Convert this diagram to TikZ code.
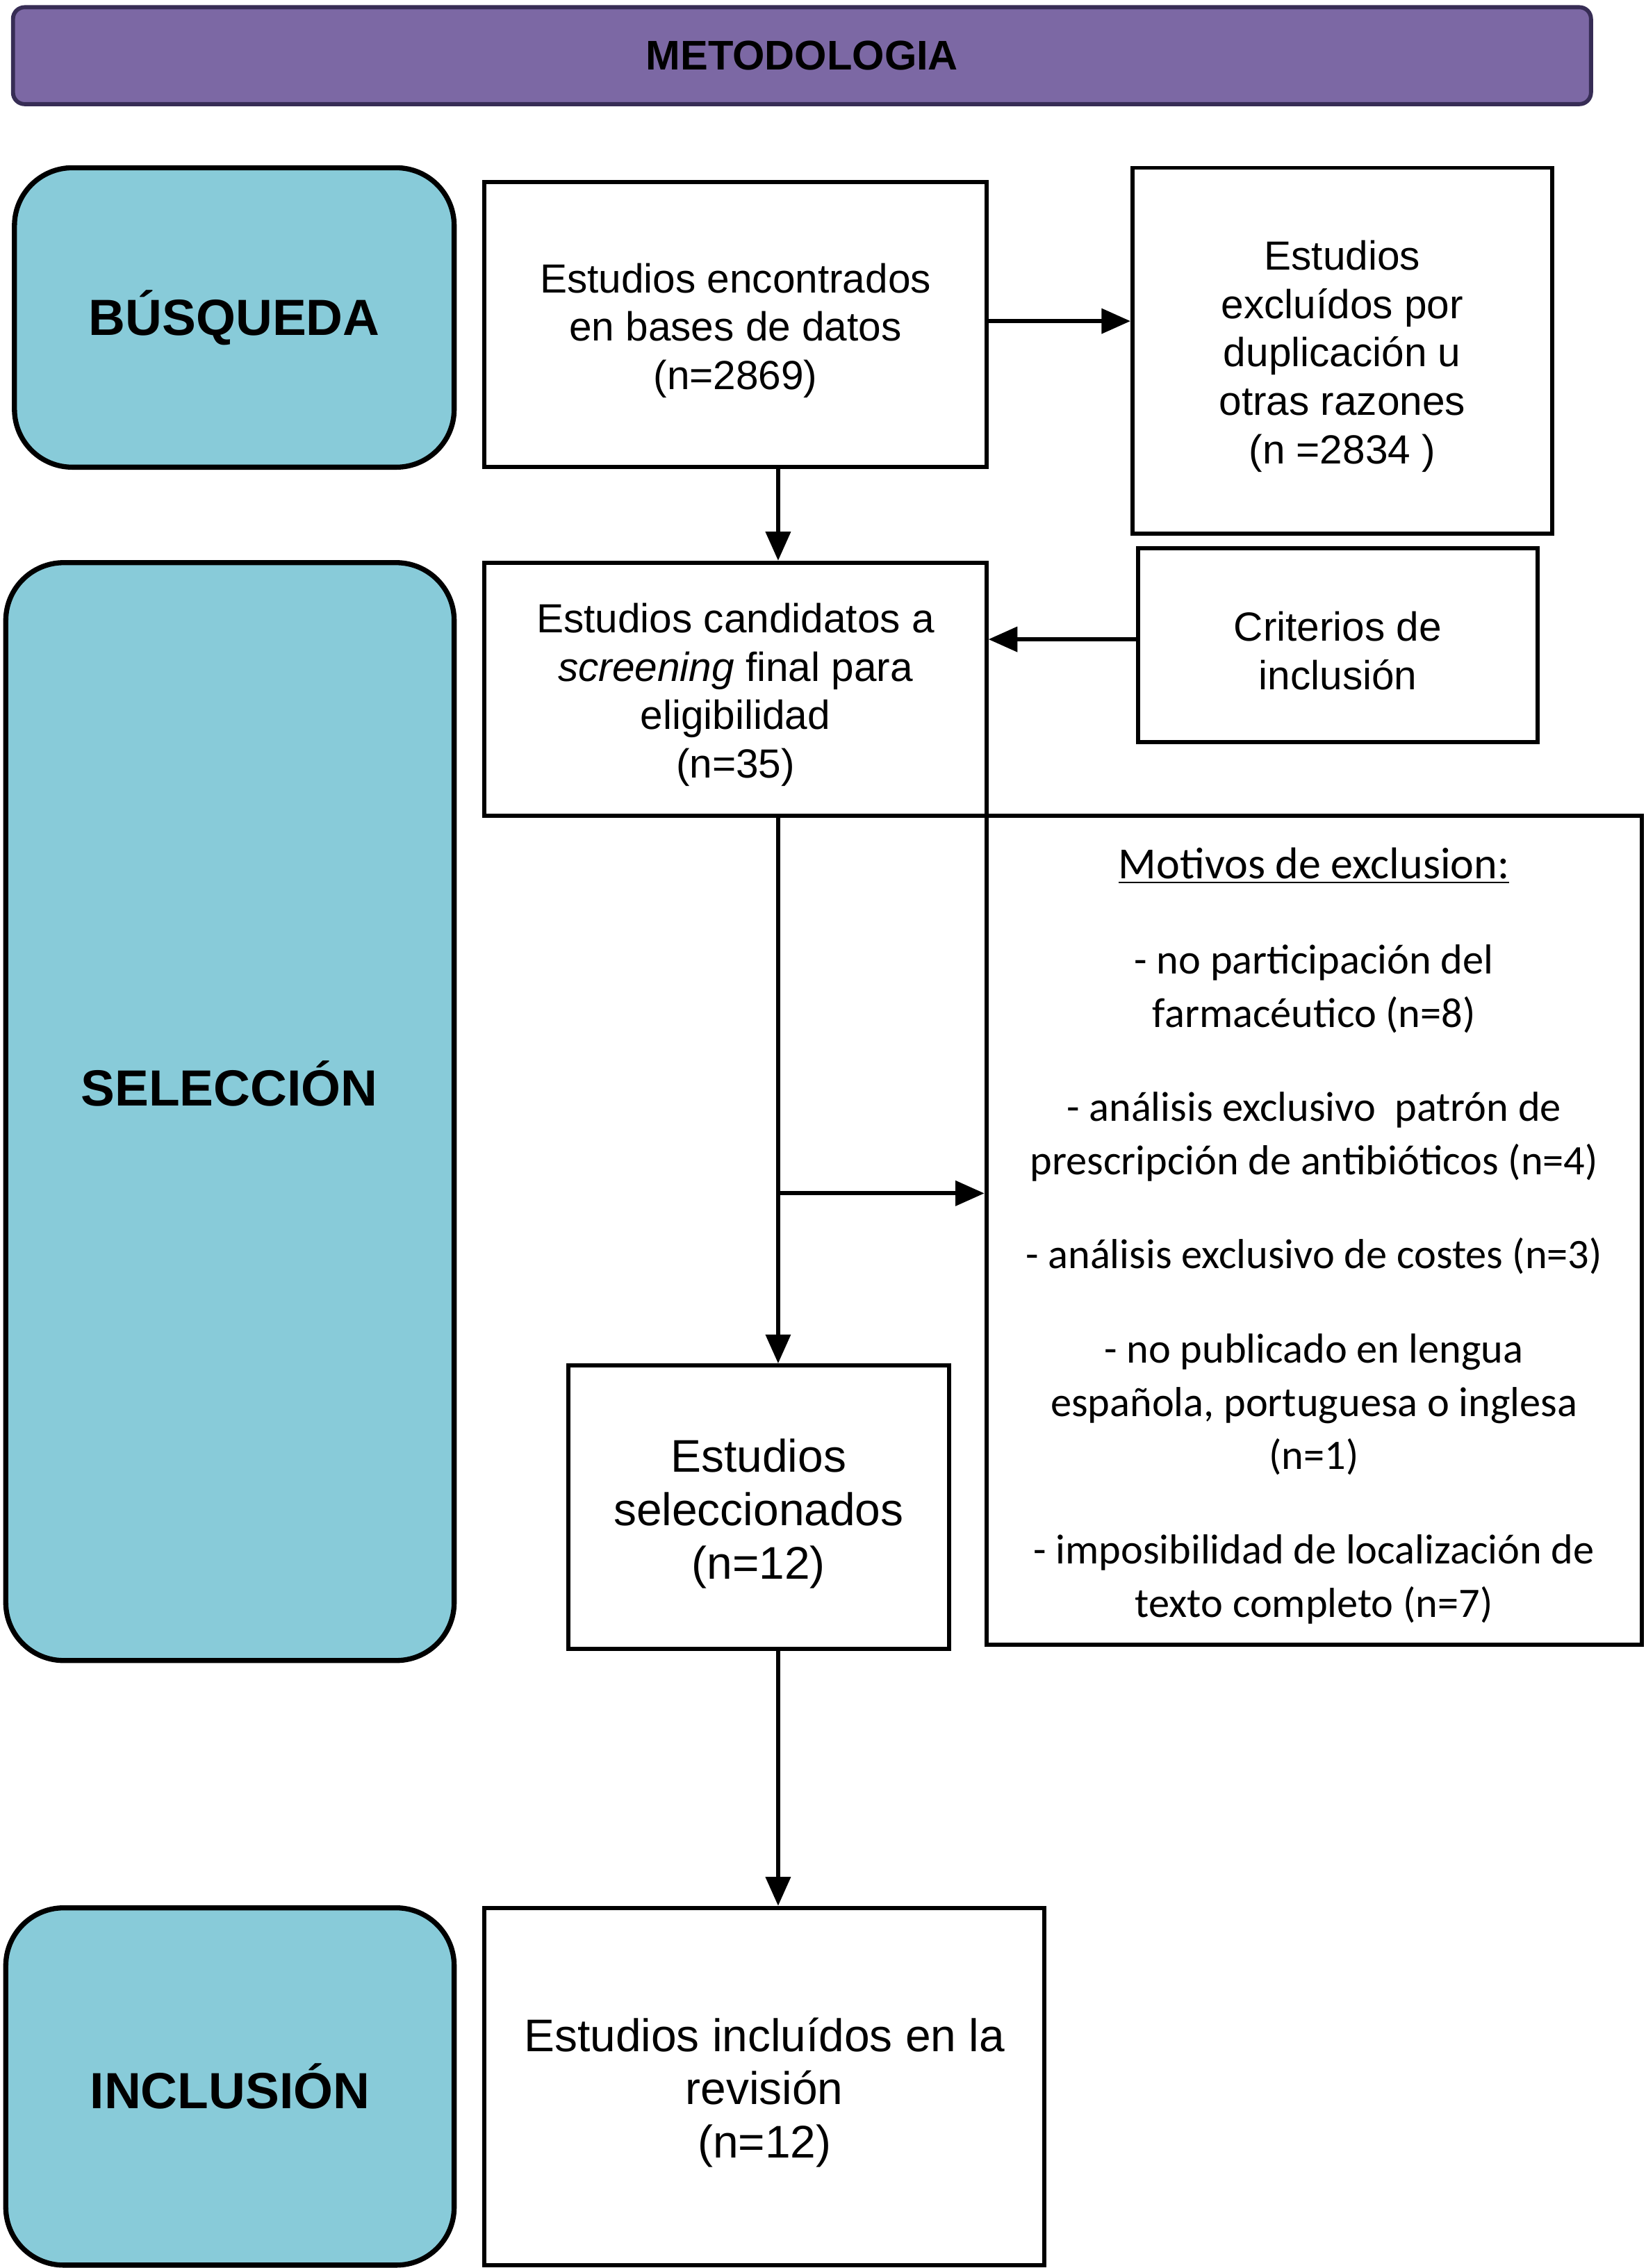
\documentclass[tikz,border=0pt]{standalone}
\usepackage{fontspec}
\setmainfont{Liberation Sans}
\newfontfamily\calib{Carlito}
\usetikzlibrary{arrows.meta,calc}
\definecolor{hdrfill}{RGB}{124,104,164}
\definecolor{hdrdraw}{RGB}{55,45,85}
\definecolor{phasefill}{RGB}{136,203,217}
\newcommand{\tstr}{\rule{0pt}{1em}}
\begin{document}
\begin{tikzpicture}[
  box/.style={draw=black, line width=1.6pt, fill=white, align=center, inner sep=0pt, font=\fontsize{16}{19}\selectfont},
  bigbox/.style={box, font=\fontsize{18}{21}\selectfont},
  phase/.style={draw=black, line width=2pt, fill=phasefill, rounded corners=0.8cm, inner sep=0pt, font=\fontsize{20}{24}\selectfont\bfseries},
  phasetext/.style={inner sep=0pt, font=\fontsize{20}{24}\selectfont\bfseries},
  arr/.style={line width=1.6pt, -{Triangle[length=0.4cm,width=0.34cm]}},
]
\useasboundingbox (0,0) rectangle (22.76,-31.36);
% header
\node[draw=hdrdraw, line width=1.6pt, fill=hdrfill, rounded corners=0.16cm, minimum width=21.82cm, minimum height=1.34cm, inner sep=0pt, font=\fontsize{16.3}{19}\selectfont\bfseries] (hdr) at (11.09,-0.77) {METODOLOGIA};
% phase boxes
\node[phase, minimum width=6.08cm, minimum height=4.14cm] (busq) at (3.24,-4.39) {BÚSQUEDA};
\node[phase, minimum width=6.2cm, minimum height=15.18cm] (selbox) at (3.18,-15.37) {};
\node[phasetext] (selt) at (3.17,-14.98) {SELECCIÓN};
\node[phase, minimum width=6.2cm, minimum height=4.94cm] (inclbox) at (3.18,-28.85) {INCLUSIÓN};
% flow boxes
\node[box, minimum width=6.94cm, minimum height=3.94cm] (b1) at (10.17,-4.49) {\tstr Estudios encontrados\\en bases de datos\\(n=2869)};
\node[box, minimum width=5.8cm, minimum height=5.06cm] (excl) at (18.56,-4.85) {\tstr Estudios\\excluídos por\\duplicación u\\otras razones\\(n =2834 )};
\node[box, minimum width=6.94cm, minimum height=3.5cm] (b2) at (10.17,-9.53) {\tstr Estudios candidatos a\\\textit{screening} final para\\eligibilidad\\(n=35)};
\node[box, minimum width=5.52cm, minimum height=2.68cm] (crit) at (18.5,-8.92) {\tstr Criterios de\\inclusión};
\node[box, minimum width=9.06cm, minimum height=11.46cm, font=\calib\fontsize{16.5}{21}\selectfont] (mot) at (18.17,-17.01) {\tstr{\fontsize{17.5}{21}\selectfont\underline{Motivos de exclusion:}}\\[16.5pt]
- no participación del\\farmacéutico (n=8)\\[16pt]
- análisis exclusivo\ \ patrón de\\prescripción de antibióticos (n=4)\\[16pt]
- análisis exclusivo de costes (n=3)\\[16pt]
- no publicado en lengua\\española, portuguesa o inglesa\\(n=1)\\[16pt]
- imposibilidad de localización de\\texto completo (n=7)};
\node[bigbox, minimum width=5.26cm, minimum height=3.92cm] (sel) at (10.49,-20.84) {\tstr Estudios\\seleccionados\\(n=12)};
\node[bigbox, minimum width=7.74cm, minimum height=4.94cm] (fin) at (10.57,-28.85) {\tstr Estudios incluídos en la\\revisión\\(n=12)};
% connectors
\coordinate (sx) at (10.76,0);
\coordinate (br) at (10.76,-16.5);
\draw[arr] ([yshift=0.05cm]b1.east) -- ([yshift=0.05cm]b1.east -| excl.west);
\draw[arr] (b1.south -| sx) -- (b2.north -| sx);
\draw[arr] ([yshift=0.08cm]crit.west) -- ([yshift=0.08cm]crit.west -| b2.east);
\draw[arr] (b2.south -| sx) -- (sel.north -| sx);
\draw[arr] (br) -- (br -| mot.west);
\draw[arr] (sel.south -| sx) -- (fin.north -| sx);
\end{tikzpicture}
\end{document}
